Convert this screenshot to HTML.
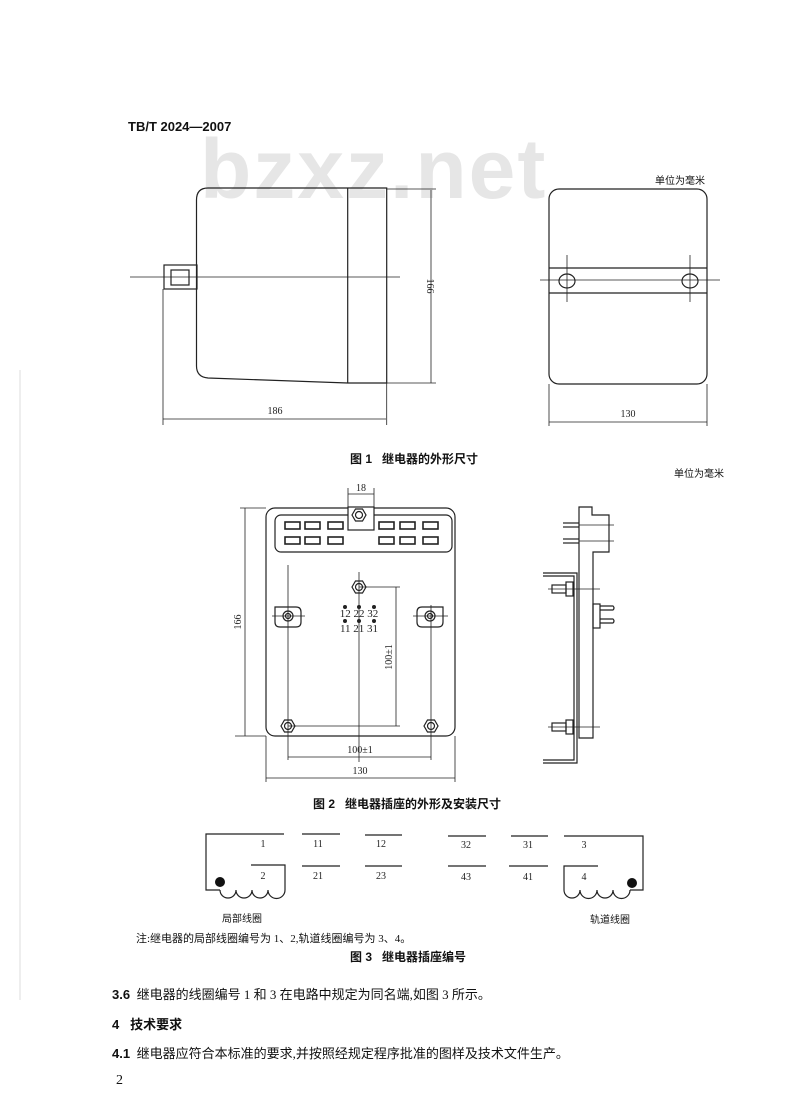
<!DOCTYPE html>
<html><head><meta charset="utf-8"><style>
html,body{margin:0;padding:0;background:#fff;}
body{width:800px;height:1120px;overflow:hidden;position:relative;font-family:"Liberation Serif","Noto Serif CJK SC","Noto Sans CJK SC",serif;color:#111;}
.t{position:absolute;white-space:nowrap;}
</style></head><body>
<svg width="800" height="1120" style="position:absolute;left:0;top:0" font-family="Liberation Serif, Noto Sans CJK SC, serif">
<text x="200" y="198" font-family="Liberation Sans, sans-serif" font-weight="bold" font-size="84" fill="#e6e6e6" letter-spacing="2">bzxz.net</text>
<line x1="20" y1="370" x2="20" y2="1000" stroke="#ddd" stroke-width="1"/>
<g stroke="#222" stroke-width="1.2" fill="none">
<!-- Fig1 left -->
<path d="M196.5 200 Q196.5 188 208 188 L386.7 188 L386.7 383 L347.7 383 L208 378 Q196.5 377 196.5 366 Z"/>
<line x1="347.7" y1="188" x2="347.7" y2="383"/>
<rect x="164" y="265" width="33" height="24"/>
<rect x="171" y="270" width="18" height="15"/>
<line x1="130" y1="277" x2="400" y2="277" stroke-width="0.8"/>
<line x1="386.7" y1="189" x2="436" y2="189" stroke-width="0.8"/>
<line x1="386.7" y1="383" x2="436" y2="383" stroke-width="0.8"/>
<line x1="431" y1="190" x2="431" y2="383" stroke-width="0.8"/>
<line x1="163" y1="289" x2="163" y2="425" stroke-width="0.8"/>
<line x1="386.7" y1="383" x2="386.7" y2="425" stroke-width="0.8"/>
<line x1="163" y1="419" x2="386" y2="419" stroke-width="0.8"/>
<!-- Fig1 right -->
<rect x="549" y="189" width="158" height="195" rx="10"/>
<line x1="549" y1="268" x2="707" y2="268"/>
<line x1="549" y1="293" x2="707" y2="293"/>
<ellipse cx="567" cy="281" rx="8" ry="7"/>
<ellipse cx="690" cy="281" rx="8" ry="7"/>
<line x1="567" y1="255" x2="567" y2="302" stroke-width="0.8"/>
<line x1="690" y1="255" x2="690" y2="302" stroke-width="0.8"/>
<line x1="540" y1="280" x2="720" y2="280" stroke-width="0.8"/>
<line x1="549" y1="384" x2="549" y2="426" stroke-width="0.8"/>
<line x1="707" y1="384" x2="707" y2="426" stroke-width="0.8"/>
<line x1="549" y1="422" x2="707" y2="422" stroke-width="0.8"/>
<!-- Fig2 -->
<rect x="266" y="508" width="189" height="228" rx="9"/>
<rect x="275" y="515" width="177" height="37" rx="6"/>
<rect x="348" y="507" width="26" height="23" fill="#fff"/>
<polygon points="352,515 355.5,509 362.5,509 366,515 362.5,521 355.5,521"/>
<circle cx="359" cy="515" r="3.5"/>
<g stroke-width="1.6">
<rect x="285" y="522" width="15" height="7"/><rect x="305" y="522" width="15" height="7"/><rect x="328" y="522" width="15" height="7"/>
<rect x="379" y="522" width="15" height="7"/><rect x="400" y="522" width="15" height="7"/><rect x="423" y="522" width="15" height="7"/>
<rect x="285" y="537" width="15" height="7"/><rect x="305" y="537" width="15" height="7"/><rect x="328" y="537" width="15" height="7"/>
<rect x="379" y="537" width="15" height="7"/><rect x="400" y="537" width="15" height="7"/><rect x="423" y="537" width="15" height="7"/>
</g>
<polygon points="352,587 355.5,581 362.5,581 366,587 362.5,593 355.5,593"/><circle cx="359" cy="587" r="3.5"/>
<polygon points="281,726 284.5,720 291.5,720 295,726 291.5,732 284.5,732"/><circle cx="288" cy="726" r="3.5"/>
<polygon points="424,726 427.5,720 434.5,720 438,726 434.5,732 427.5,732"/><circle cx="431" cy="726" r="3.5"/>
<path d="M275 607 L296 607 Q301 607 301 612 L301 622 Q301 627 296 627 L280 627 Q275 627 275 622 Z"/>
<circle cx="288" cy="616" r="5"/><circle cx="288" cy="616" r="2.5"/>
<path d="M443 607 L422 607 Q417 607 417 612 L417 622 Q417 627 422 627 L438 627 Q443 627 443 622 Z"/>
<circle cx="430" cy="616" r="5"/><circle cx="430" cy="616" r="2.5"/>
<line x1="288" y1="565" x2="288" y2="760" stroke-width="0.8"/>
<line x1="431" y1="605" x2="431" y2="760" stroke-width="0.8"/>
<line x1="272" y1="616" x2="305" y2="616" stroke-width="0.8"/>
<line x1="413" y1="616" x2="448" y2="616" stroke-width="0.8"/>
<line x1="359" y1="572" x2="359" y2="762" stroke-width="0.8"/>
<line x1="348" y1="488" x2="348" y2="507" stroke-width="0.8"/>
<line x1="374" y1="488" x2="374" y2="507" stroke-width="0.8"/>
<line x1="348" y1="494" x2="374" y2="494" stroke-width="0.8"/>
<line x1="359" y1="587" x2="400" y2="587" stroke-width="0.8"/>
<line x1="288" y1="726" x2="400" y2="726" stroke-width="0.8"/>
<line x1="396" y1="587" x2="396" y2="726" stroke-width="0.8"/>
<line x1="240" y1="508" x2="266" y2="508" stroke-width="0.8"/>
<line x1="235" y1="736" x2="266" y2="736" stroke-width="0.8"/>
<line x1="245" y1="508" x2="245" y2="736" stroke-width="0.8"/>
<line x1="288" y1="757" x2="431" y2="757" stroke-width="0.8"/>
<line x1="266" y1="736" x2="266" y2="782" stroke-width="0.8"/>
<line x1="455" y1="736" x2="455" y2="782" stroke-width="0.8"/>
<line x1="266" y1="778" x2="455" y2="778" stroke-width="0.8"/>
<!-- side view -->
<path d="M579 507 L592 507 L592 515 L609 515 L609 552 L593 552 L593 738 L579 738 Z"/>
<line x1="563" y1="523" x2="579" y2="523"/><line x1="563" y1="527" x2="579" y2="527"/>
<line x1="563" y1="539" x2="579" y2="539"/><line x1="563" y1="543" x2="579" y2="543"/>
<line x1="579" y1="525" x2="614" y2="525" stroke-width="0.8"/><line x1="579" y1="541" x2="614" y2="541" stroke-width="0.8"/>
<path d="M543 573 L577 573 L577 763 L543 763"/>
<path d="M543 576 L574 576 L574 760 L543 760"/>
<rect x="552" y="585" width="14" height="8"/><rect x="566" y="582" width="7" height="14"/>
<rect x="552" y="723" width="14" height="8"/><rect x="566" y="720" width="7" height="14"/>
<line x1="548" y1="589" x2="600" y2="589" stroke-width="0.8"/>
<line x1="548" y1="727" x2="600" y2="727" stroke-width="0.8"/>
<rect x="593" y="604" width="7" height="24"/>
<path d="M600 606 L613 606 Q615 608 613 610 L600 610"/>
<path d="M600 619 L613 619 Q615 621 613 623 L600 623"/>
<!-- Fig3 -->
<path d="M284 834 L206 834 L206 890 L220 890"/>
<path d="M251 865 L285 865 L285 890"/>
<path d="M220 890 a8 8 0 0 0 16 0 a8 8 0 0 0 16 0 a8 8 0 0 0 16 0 a8 8 0 0 0 17 0"/>
<path d="M564 836 L643 836 L643 890 L630 890"/>
<path d="M598 866 L564 866 L564 890"/>
<path d="M564 890 a8 8 0 0 0 16 0 a8 8 0 0 0 17 0 a8 8 0 0 0 16 0 a8 8 0 0 0 17 0"/>
<line x1="302" y1="834" x2="340" y2="834"/><line x1="302" y1="866" x2="340" y2="866"/>
<line x1="365" y1="835" x2="402" y2="835"/><line x1="365" y1="866" x2="402" y2="866"/>
<line x1="448" y1="836" x2="486" y2="836"/><line x1="448" y1="866" x2="486" y2="866"/>
<line x1="511" y1="836" x2="548" y2="836"/><line x1="509" y1="866" x2="548" y2="866"/>
</g>
<circle cx="220" cy="882" r="5" fill="#111"/>
<circle cx="632" cy="883" r="5" fill="#111"/>
<g font-size="10" fill="#222" text-anchor="middle">
<text x="275" y="414">186</text>
<text x="628" y="417">130</text>
<text transform="translate(427 286) rotate(90)">166</text>
<text x="361" y="491">18</text>
<text x="360" y="753">100±1</text>
<text x="360" y="774">130</text>
<text transform="translate(241 622) rotate(-90)">166</text>
<text transform="translate(392 657) rotate(-90)">100±1</text>
<text x="359" y="617" font-size="11">12 22 32</text>
<text x="359" y="632" font-size="11">11 21 31</text>
<text x="263" y="847">1</text><text x="263" y="879">2</text>
<text x="318" y="847">11</text><text x="318" y="879">21</text>
<text x="381" y="847">12</text><text x="381" y="879">23</text>
<text x="466" y="848">32</text><text x="466" y="880">43</text>
<text x="528" y="848">31</text><text x="528" y="880">41</text>
<text x="584" y="848">3</text><text x="584" y="880">4</text>
</g>
<g fill="#222">
<circle cx="345" cy="607" r="2"/><circle cx="359" cy="607" r="2"/><circle cx="374" cy="607" r="2"/>
<circle cx="345" cy="621" r="2"/><circle cx="359" cy="621" r="2"/><circle cx="374" cy="621" r="2"/>
</g>
</svg>
<div class="t" style="left:128px;top:119px;font-size:13px;font-weight:bold;font-family:'Liberation Sans',sans-serif">TB/T 2024—2007</div>
<div class="t" style="left:655px;top:172px;font-size:10px;font-family:'Liberation Sans','Noto Sans CJK SC',sans-serif">单位为毫米</div>
<div class="t" style="left:350px;top:450px;font-size:12px;font-weight:bold;font-family:'Liberation Sans','Noto Sans CJK SC',sans-serif">图 1&nbsp;&nbsp;&nbsp;继电器的外形尺寸</div>
<div class="t" style="left:674px;top:465px;font-size:10px;font-family:'Liberation Sans','Noto Sans CJK SC',sans-serif">单位为毫米</div>
<div class="t" style="left:313px;top:795px;font-size:12px;font-weight:bold;font-family:'Liberation Sans','Noto Sans CJK SC',sans-serif">图 2&nbsp;&nbsp;&nbsp;继电器插座的外形及安装尺寸</div>
<div class="t" style="left:222px;top:910px;font-size:10px;font-family:'Liberation Sans','Noto Sans CJK SC',sans-serif">局部线圈</div>
<div class="t" style="left:590px;top:911px;font-size:10px;font-family:'Liberation Sans','Noto Sans CJK SC',sans-serif">轨道线圈</div>
<div class="t" style="left:136px;top:930px;font-size:11px;font-family:'Liberation Serif','Noto Sans CJK SC',serif">注:继电器的局部线圈编号为 1、2,轨道线圈编号为 3、4。</div>
<div class="t" style="left:350px;top:948px;font-size:12px;font-weight:bold;font-family:'Liberation Sans','Noto Sans CJK SC',sans-serif">图 3&nbsp;&nbsp;&nbsp;继电器插座编号</div>
<div class="t" style="left:112px;top:984px;font-size:13px;font-family:'Liberation Serif','Noto Sans CJK SC',serif"><b style="font-family:'Liberation Sans',sans-serif">3.6</b>&nbsp;&nbsp;继电器的线圈编号 1 和 3 在电路中规定为同名端,如图 3 所示。</div>
<div class="t" style="left:112px;top:1014px;font-size:13px;font-weight:bold;font-family:'Liberation Sans','Noto Sans CJK SC',sans-serif">4&nbsp;&nbsp;&nbsp;技术要求</div>
<div class="t" style="left:112px;top:1043px;font-size:13px;font-family:'Liberation Serif','Noto Sans CJK SC',serif"><b style="font-family:'Liberation Sans',sans-serif">4.1</b>&nbsp;&nbsp;继电器应符合本标准的要求,并按照经规定程序批准的图样及技术文件生产。</div>
<div class="t" style="left:116px;top:1073px;font-size:14px">2</div>
</body></html>
